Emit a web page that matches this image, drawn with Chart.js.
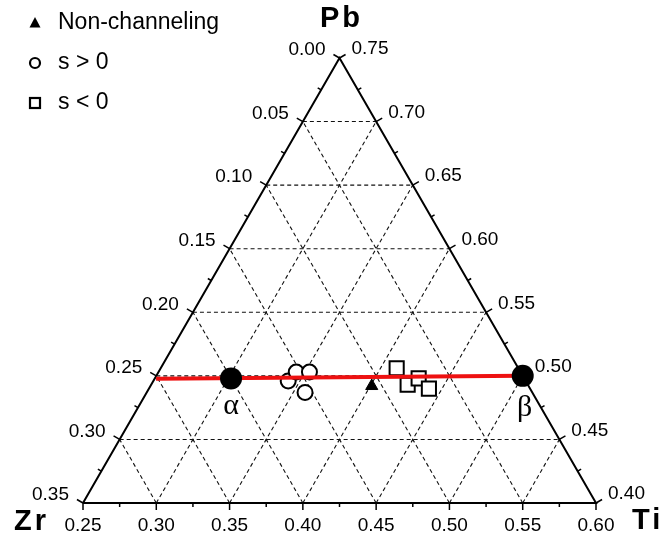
<!DOCTYPE html>
<html>
<head>
<meta charset="utf-8">
<script src="https://cdn.jsdelivr.net/npm/chart.js@4.4.0/dist/chart.umd.min.js"></script>
<style>
  html, body { margin: 0; padding: 0; background: #fff; }
  #wrap { width: 670px; height: 538px; }
</style>
</head>
<body>
<div id="wrap"><canvas id="myChart" width="670" height="538"></canvas></div>
<script>
'use strict';

// GLOBAL DATA (compositions, Zr = 1 - Ti - Pb)
let alphaTi = [0.302];
let alphaPb = [0.498];
let betaTi = [0.500];
let betaPb = [0.500];

let tieTi = [0.251, 0.500];
let tiePb = [0.4977, 0.500];

let sPosTi = [0.342, 0.344, 0.353, 0.358];
let sPosPb = [0.496, 0.503, 0.503, 0.487];

let sNegTi = [0.411, 0.425, 0.430, 0.441];
let sNegPb = [0.506, 0.493, 0.498, 0.490];

let nonChTi = [0.401];
let nonChPb = [0.492];

let tiTicks = ['0.25', '0.30', '0.35', '0.40', '0.45', '0.50', '0.55', '0.60'];
let zrTicks = ['0.00', '0.05', '0.10', '0.15', '0.20', '0.25', '0.30', '0.35'];
let pbTicks = ['0.40', '0.45', '0.50', '0.55', '0.60', '0.65', '0.70', '0.75'];

let legendLabels = ['Non-channeling', 's > 0', 's < 0'];

const TI_MIN = 0.25;
const PB_MIN = 0.40;
const SPAN = 0.35;
const H = Math.sqrt(3) / 2;

// HELPERS
function toXY(ti, pb){
  return { x: ti + (pb - PB_MIN) / 2, y: (pb - PB_MIN) * H };
}

function pointsFrom(tis, pbs){
  let out = [];
  for(let i = 0; i < tis.length; i++){
    out.push(toXY(tis[i], pbs[i]));
  }
  return out;
}

function lineSet(pts, opts){
  return Object.assign({
    type: 'scatter',
    data: pts,
    showLine: true,
    pointRadius: 0,
    pointHoverRadius: 0,
    borderColor: '#000',
    borderWidth: 1,
    clip: false,
    order: 10
  }, opts);
}

// grid lines every 0.05
let datasets = [];
let gridStyle = { borderDash: [4, 3], borderColor: '#111', borderWidth: 1.1 };
for(let k = 1; k < 7; k++){
  let v = k * 0.05;
  // Pb constant
  let pb = PB_MIN + v;
  datasets.push(lineSet([toXY(TI_MIN, pb), toXY(1 - pb, pb)], gridStyle));
  // Ti constant (parallel to left edge)
  let ti = TI_MIN + v;
  datasets.push(lineSet([toXY(ti, PB_MIN), toXY(ti, 1 - ti)], gridStyle));
  // Zr constant (parallel to right edge)
  let zr = v;
  datasets.push(lineSet([toXY(1 - PB_MIN - zr, PB_MIN), toXY(TI_MIN, 1 - TI_MIN - zr)], gridStyle));
}

// frame
datasets.push(lineSet([
  toXY(TI_MIN, PB_MIN),
  toXY(TI_MIN + SPAN, PB_MIN),
  toXY(TI_MIN, PB_MIN + SPAN),
  toXY(TI_MIN, PB_MIN)
], { borderWidth: 2, order: 9, borderJoinStyle: 'miter' }));

// markers
datasets.push({
  label: 's > 0', data: pointsFrom(sPosTi, sPosPb), pointStyle: 'circle',
  pointRadius: 7.5, borderWidth: 2, borderColor: '#000', backgroundColor: '#fff', clip: false, order: 5
});
datasets.push({
  label: 's < 0', data: pointsFrom(sNegTi, sNegPb), pointStyle: 'rect',
  pointRadius: 10, borderWidth: 2, borderColor: '#000', backgroundColor: '#fff', clip: false, order: 5
});
datasets.push({
  label: 'Non-channeling', data: pointsFrom(nonChTi, nonChPb), pointStyle: 'triangle',
  pointRadius: 7, borderWidth: 1, borderColor: '#000', backgroundColor: '#000', clip: false, order: 5
});
datasets.push(lineSet(pointsFrom(tieTi, tiePb), { borderColor: '#ee1111', borderWidth: 4, order: 3 }));
datasets.push({
  label: 'phases', data: pointsFrom(alphaTi.concat(betaTi), alphaPb.concat(betaPb)), pointStyle: 'circle',
  pointRadius: 11, borderWidth: 0, backgroundColor: '#000', clip: false, order: 1
});

// axis ticks, labels, legend
const ternaryLabels = {
  id: 'ternaryLabels',
  afterDraw(chart){
    let ctx = chart.ctx;
    let xs = chart.scales.x;
    let ys = chart.scales.y;
    function px(ti, pb){
      let p = toXY(ti, pb);
      return [xs.getPixelForValue(p.x), ys.getPixelForValue(p.y)];
    }
    ctx.save();
    ctx.strokeStyle = '#000';
    ctx.fillStyle = '#000';
    ctx.lineWidth = 1.5;
    ctx.font = '19px "Liberation Sans", Arial, sans-serif';

    // ticks (major + minor)
    for(let k = 0; k <= 14; k++){
      let v = k * 0.025;
      let len = (k % 2 === 0) ? 7 : 4;
      // bottom: Ti
      let b = px(TI_MIN + v, PB_MIN);
      ctx.beginPath(); ctx.moveTo(b[0], b[1]); ctx.lineTo(b[0], b[1] + len); ctx.stroke();
      // left: Zr
      let l = px(TI_MIN, PB_MIN + SPAN - v);
      ctx.beginPath(); ctx.moveTo(l[0], l[1]); ctx.lineTo(l[0] - len * 0.866, l[1] - len * 0.5); ctx.stroke();
      // right: Pb
      let r = px(1 - PB_MIN - v, PB_MIN + v);
      ctx.beginPath(); ctx.moveTo(r[0], r[1]); ctx.lineTo(r[0] + len * 0.866, r[1] - len * 0.5); ctx.stroke();
    }

    ctx.textBaseline = 'middle';
    for(let i = 0; i < tiTicks.length; i++){
      let v = i * 0.05;
      let b = px(TI_MIN + v, PB_MIN);
      ctx.textAlign = 'center';
      ctx.fillText(tiTicks[i], b[0], b[1] + 23);
      let l = px(TI_MIN, PB_MIN + SPAN - v);
      ctx.textAlign = 'right';
      ctx.fillText(zrTicks[i], l[0] - 14, l[1] - 8);
      let r = px(1 - PB_MIN - v, PB_MIN + v);
      ctx.textAlign = 'left';
      ctx.fillText(pbTicks[i], r[0] + 12, r[1] - 9);
    }

    // corner titles
    ctx.font = 'bold 29px "Liberation Sans", Arial, sans-serif';
    if('letterSpacing' in ctx) ctx.letterSpacing = '3px';
    ctx.textAlign = 'center';
    let top = px(TI_MIN, PB_MIN + SPAN);
    ctx.fillText('Pb', top[0] + 2, top[1] - 39);
    ctx.textAlign = 'left';
    ctx.fillText('Zr', 14, 522);
    ctx.fillText('Ti', 632, 521);
    if('letterSpacing' in ctx) ctx.letterSpacing = '0px';

    // phase labels
    ctx.font = '30px "Liberation Serif", "DejaVu Serif", serif';
    ctx.textAlign = 'center';
    let a = px(alphaTi[0], alphaPb[0]);
    ctx.fillText('\u03b1', a[0], a[1] + 28);
    let be = px(betaTi[0], betaPb[0]);
    ctx.fillText('\u03b2', be[0] + 2, be[1] + 32);

    // legend
    ctx.font = '23px "Liberation Sans", Arial, sans-serif';
    ctx.textAlign = 'left';
    let ly = [23, 63, 103];
    for(let i = 0; i < legendLabels.length; i++){
      ctx.fillText(legendLabels[i], 58, ly[i]);
    }
    ctx.lineWidth = 2.2;
    ctx.beginPath();
    ctx.moveTo(35, ly[0] - 6); ctx.lineTo(40.5, ly[0] + 4.5); ctx.lineTo(29.5, ly[0] + 4.5); ctx.closePath();
    ctx.fill();
    ctx.beginPath(); ctx.arc(35, ly[1], 5, 0, Math.PI * 2); ctx.stroke();
    ctx.strokeRect(30, ly[2] - 5, 10, 10);
    ctx.restore();
  }
};

// CHART
let chartCanvas = document.getElementById('myChart');
let myChart = new Chart(chartCanvas, {
  type: 'scatter',
  data: { datasets: datasets },
  options: {
    responsive: false,
    animation: false,
    events: [],
    layout: { padding: { left: 83, right: 74, top: 58, bottom: 35 } },
    scales: {
      x: { type: 'linear', min: TI_MIN, max: TI_MIN + SPAN, display: false },
      y: { type: 'linear', min: 0, max: SPAN * H, display: false }
    },
    plugins: {
      legend: { display: false },
      tooltip: { enabled: false }
    }
  },
  plugins: [ternaryLabels]
});
</script>
</body>
</html>
